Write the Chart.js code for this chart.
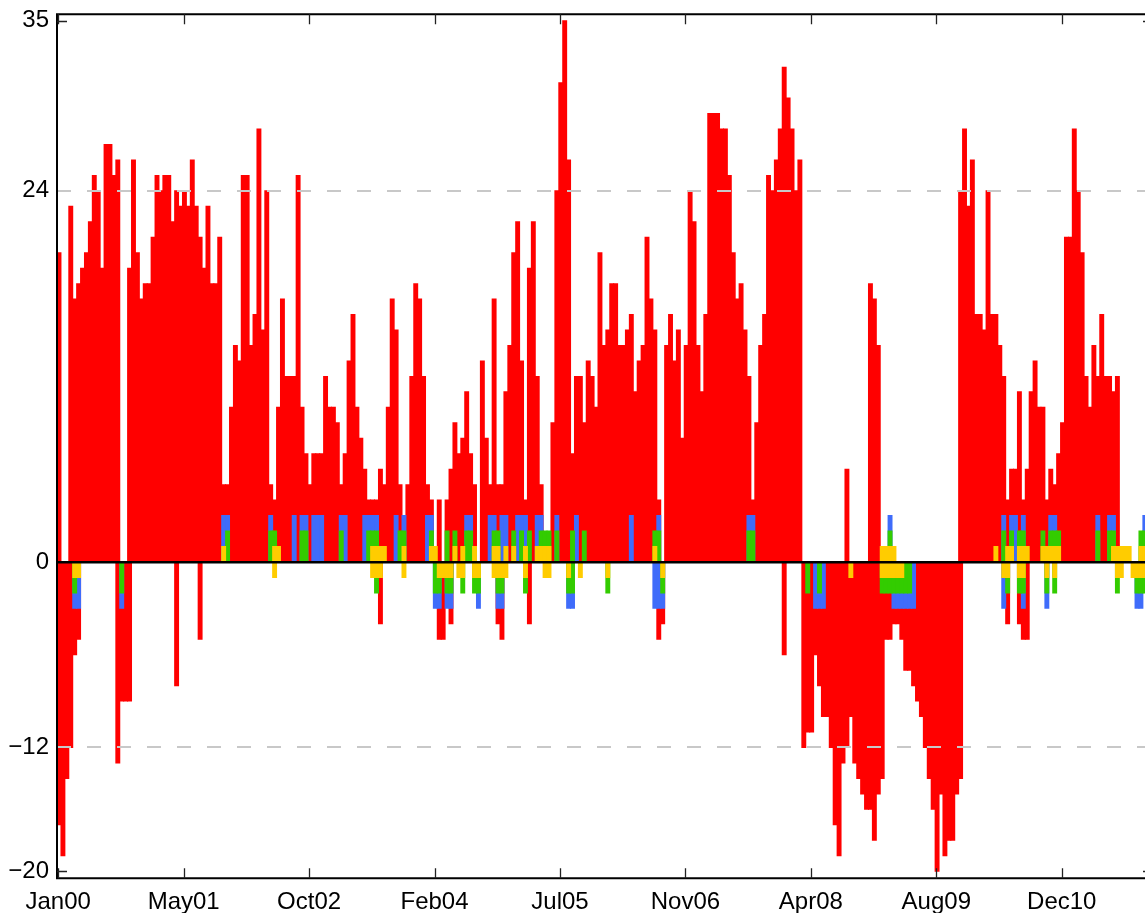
<!DOCTYPE html>
<html>
<head>
<meta charset="utf-8">
<script src="https://cdn.jsdelivr.net/npm/chart.js@4.4.1/dist/chart.umd.min.js"></script>
<style>
  html, body { margin: 0; padding: 0; background: #fff; }
  #wrap { width: 1145px; height: 913px; }
</style>
</head>
<body>
<div id="wrap"><canvas id="chart" width="1145" height="913"></canvas></div>
<script>
// one value per bin (about two weeks each)
const redSeries = [
  20, -19, -14, 23, 17, 18, 19, 20, 22, 25, 24, 19, 27, 27, 25, 26, -9, -9, 19, 26,
  20, 17, 18, 18, 21, 25, 24, 25, 25, 22, 24, 23, 24, 23, 26, 23, 21, 19, 23, 18,
  18, 21, 5, 5, 10, 14, 13, 25, 25, 14, 16, 28, 15, 24, 5, 4, 10, 17, 12, 12,
  12, 25, 10, 7, 5, 7, 7, 7, 12, 10, 10, 9, 5, 7, 13, 16, 10, 8, 6, 4,
  4, 4, 6, 5, 10, 17, 15, 5, 0, 5, 12, 18, 17, 12, 5, 4, 0, 4, -5, 4,
  6, 9, 7, 8, 11, 7, 5, 0, 13, 8, 5, 17, 5, -5, 11, 14, 20, 22, 13, 4,
  19, 22, 12, 5, 0, 0, 9, 24, 31, 35, 26, 7, 12, 12, 9, 13, 12, 10, 20, 14,
  15, 18, 18, 14, 14, 15, 16, 11, 13, 14, 21, 17, 15, -5, -4, 14, 16, 13, 15, 8,
  14, 24, 22, 14, 11, 16, 29, 29, 29, 28, 28, 25, 20, 17, 18, 15, 12, 4, 9, 14,
  16, 25, 24, 26, 28, 32, 30, 28, 24, 26, -12, -11, -11, -6, -8, -10, -10, -12, -17, -19,
  -13, -12, -10, -13, -14, -15, -16, -16, -18, -15, -14, -5, -5, -4, -4, -5, -7, -7, -8, -9,
  -10, -12, -14, -16, -20, -15, -19, -18, -18, -15, -14, 28, 23, 26, 16, 16, 15, 24, 16, 16,
  14, 12, 4, 6, 6, 11, 4, 6, 11, 13, 10, 10, 4, 6, 5, 7, 9, 21, 21, 28,
  24, 20, 12, 10, 14, 12, 16, 12, 12, 11, 12, 0, 0, 0, 0, 0, 0, 0
];
// bins where the red bar also reaches the other side of zero: [bin, value]
const redOpposite = [
  [0, -17], [3, -12], [4, -6], [5, -5], [15, -13], [18, -9], [30, -8], [36, -5],
  [82, -4], [97, -5], [100, -4], [112, -4], [113, 5], [120, -4], [153, 4], [185, -6],
  [201, 6], [207, 18], [208, 17], [209, 14], [230, 24], [242, -4], [245, -4], [246, -5], [247, -5]
];
const blueSignal = [
  [4,-3],[5,-3],[16,-3],[42,3],[43,3],[54,3],[60,3],[62,3],[63,3],[65,3],[66,3],[67,3],[72,3],[73,3],
  [78,3],[79,3],[80,3],[81,3],[86,3],[88,3],[94,3],[95,3],[96,-3],[97,-3],[99,-3],[100,-3],[104,3],[105,3],
  [107,-3],[110,3],[111,3],[112,-3],[113,3],[113,-3],[114,3],[117,3],[118,3],[119,3],[122,3],[123,3],[127,3],
  [130,-3],[131,-3],[132,3],[146,3],[152,-3],[153,3],[153,-3],[154,-3],[176,3],[177,3],[193,-3],[194,-3],
  [195,-3],[212,3],[213,-3],[214,-3],[215,-3],[216,-3],[217,-3],[218,-3],[241,3],[241,-3],[243,3],[244,3],
  [246,3],[246,-3],[252,-3],[253,3],[254,3],[265,3],[268,3],[269,3],[275,-3],[276,-3],[277,3]
];
const greenSignal = [
  [4,-2],[16,-2],[43,2],[54,2],[55,2],[62,2],[63,2],[72,2],[79,2],[80,2],[81,2],[81,-2],[87,2],[88,2],
  [95,2],[96,-2],[97,-2],[99,2],[99,-2],[100,-2],[101,2],[103,-2],[104,2],[105,2],[106,-2],[107,-2],[111,2],
  [112,2],[112,-2],[113,-2],[116,2],[118,2],[119,-2],[120,2],[123,2],[124,2],[125,2],[127,2],[130,-2],
  [131,2],[131,-2],[134,2],[140,-2],[152,2],[153,2],[154,-2],[176,2],[177,2],[191,-2],[194,-2],[210,-2],
  [211,-2],[212,2],[212,-2],[213,-2],[214,-2],[215,-2],[216,-2],[217,-2],[241,2],[242,-2],[243,2],[245,2],
  [245,-2],[246,2],[246,-2],[251,2],[252,-2],[253,2],[254,2],[254,-2],[255,2],[265,2],[268,2],[269,2],
  [270,-2],[275,-2],[276,2],[276,-2],[277,2],[277,-2]
];
const yellowSignal = [
  [4,-1],[5,-1],[42,1],[55,1],[55,-1],[56,1],[80,1],[80,-1],[81,1],[81,-1],[82,1],[82,-1],[83,1],[88,1],
  [88,-1],[95,1],[96,1],[97,-1],[98,-1],[99,-1],[100,-1],[101,1],[102,-1],[103,1],[103,-1],[106,1],[106,-1],
  [107,-1],[111,1],[111,-1],[112,1],[112,-1],[113,-1],[114,1],[114,-1],[116,1],[119,1],[119,-1],[122,1],
  [123,1],[124,1],[124,-1],[125,1],[125,-1],[130,-1],[133,-1],[140,-1],[152,1],[154,-1],[202,-1],[210,1],
  [210,-1],[211,1],[211,-1],[212,1],[212,-1],[213,1],[213,-1],[214,-1],[215,-1],[239,1],[241,-1],[242,1],
  [242,-1],[243,1],[245,1],[245,-1],[246,1],[246,-1],[247,1],[251,1],[252,1],[252,-1],[253,1],[254,1],
  [254,-1],[255,1],[269,1],[270,1],[270,-1],[271,1],[271,-1],[272,1],[273,1],[274,-1],[275,-1],[276,1],
  [276,-1],[277,1],[277,-1]
];
const xTickLabels = ['Jan00', 'May01', 'Oct02', 'Feb04', 'Jul05', 'Nov06', 'Apr08', 'Aug09', 'Dec10'];
const xTickBins = [-0.2, 31.8, 63.8, 95.8, 127.8, 159.8, 191.8, 223.8, 255.8];
const yTickValues = [-20, -12, 0, 24, 35];

const FONT = "'Liberation Sans', Arial, Helvetica, sans-serif";

function redPoints() {
  const pts = [];
  for (let [i, v] of redSeries.entries()) {
    if (v !== 0) pts.push({x: i, y: v});
  }
  for (let [i, v] of redOpposite) pts.push({x: i, y: v});
  return pts;
}

function pairPoints(pairs) {
  return pairs.map(p => ({x: p[0], y: p[1]}));
}

function barSet(label, data, color, order) {
  return {
    label: label,
    data: data,
    backgroundColor: color,
    borderWidth: 0,
    grouped: false,
    barPercentage: 1,
    categoryPercentage: 1,
    inflateAmount: 0.5,
    order: order,
  };
}

function yLabel(v) {
  return v < 0 ? '\u2212' + Math.abs(v) : String(v);
}

// box on left/top/bottom with inward tick marks
const frame = {
  id: 'frame',
  afterDraw(chart) {
    const {ctx, chartArea: a, scales: {x, y}} = chart;
    ctx.save();
    ctx.strokeStyle = '#000';
    ctx.lineWidth = 2;
    ctx.beginPath();
    ctx.moveTo(a.right + 2, a.top);
    ctx.lineTo(a.left, a.top);
    ctx.lineTo(a.left, a.bottom);
    ctx.lineTo(a.right + 2, a.bottom);
    ctx.stroke();
    ctx.lineWidth = 1.3;
    ctx.strokeStyle = '#222';
    ctx.beginPath();
    for (const t of x.ticks) {
      const px = Math.round(x.getPixelForValue(t.value)) + 0.5;
      ctx.moveTo(px, a.top);
      ctx.lineTo(px, a.top + 10);
      ctx.moveTo(px, a.bottom);
      ctx.lineTo(px, a.bottom - 10);
    }
    for (const v of [yTickValues[0], yTickValues[yTickValues.length - 1]]) {
      const py = Math.round(y.getPixelForValue(v)) + 0.5;
      ctx.moveTo(a.left, py);
      ctx.lineTo(a.left + 10, py);
      ctx.moveTo(a.right, py);
      ctx.lineTo(a.right - 2, py);
    }
    ctx.stroke();
    ctx.restore();
  }
};

new Chart(document.getElementById('chart'), {
  type: 'bar',
  data: {
    datasets: [
      barSet('red', redPoints(), '#ff0000', 4),
      barSet('blue', pairPoints(blueSignal), '#3f6cfa', 3),
      barSet('green', pairPoints(greenSignal), '#33cc00', 2),
      barSet('yellow', pairPoints(yellowSignal), '#ffcc00', 1),
    ],
  },
  options: {
    responsive: false,
    animation: false,
    devicePixelRatio: 1,
    layout: { padding: { top: 14.3, left: 0, right: 0, bottom: 0 } },
    plugins: {
      legend: { display: false },
      tooltip: { enabled: false },
    },
    scales: {
      x: {
        type: 'linear',
        offset: false,
        min: -0.51,
        max: 277.04,
        afterBuildTicks: (s) => { s.ticks = xTickBins.map(v => ({value: v})); },
        afterFit: (s) => { s.height = 34.7; s.paddingLeft = 0; s.paddingRight = 0; },
        ticks: {
          callback: (v, i) => xTickLabels[i],
          autoSkip: false,
          maxRotation: 0,
          padding: 10,
          color: '#000',
          font: { family: FONT, size: 24 },
        },
        grid: { display: false, drawTicks: false, offset: false },
        border: { display: false },
      },
      y: {
        min: -20.46,
        max: 35.42,
        afterBuildTicks: (s) => { s.ticks = yTickValues.map(v => ({value: v})); },
        afterFit: (s) => { s.width = 57; s.paddingTop = 0; s.paddingBottom = 0; },
        ticks: {
          callback: (v) => yLabel(v),
          padding: 8,
          color: '#000',
          font: { family: FONT, size: 24 },
        },
        grid: {
          z: 1,
          drawTicks: false,
          color: (c) => c.tick.value === 0 ? '#000' : (c.tick.value === 24 || c.tick.value === -12 ? '#c8c8c8' : 'rgba(0,0,0,0)'),
          lineWidth: (c) => c.tick.value === 0 ? 2.5 : 2,
        },
        border: {
          display: false,
          dash: (c) => c.tick && c.tick.value !== 0 ? [14, 16] : [],
        },
      },
    },
  },
  plugins: [frame],
});
</script>
</body>
</html>
